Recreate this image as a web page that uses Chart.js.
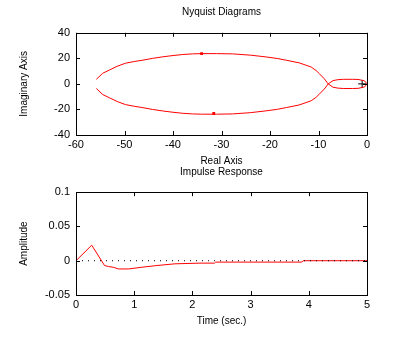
<!DOCTYPE html>
<html>
<head>
<meta charset="utf-8">
<script src="https://cdn.jsdelivr.net/npm/chart.js@4"></script>
<style>
  body { margin: 0; background: #fff; }
  #wrap { position: relative; width: 407px; height: 337px; }
  canvas { position: absolute; left: 0; top: 0; }
</style>
</head>
<body>
<div id="wrap">
  <canvas id="nyquist" width="407" height="337"></canvas>
  <canvas id="impulse" width="407" height="337"></canvas>
</div>
<script>
// Nyquist curve (positive frequencies), the other half is the mirror image
const nyqRe = [-55.8, -54.5, -53.1, -51.5, -49.8, -48.0, -46.2, -44.2, -42.1, -40.0, -38.0, -36.0, -34.1, -31.0, -27.7, -24.0, -20.8, -18.5, -16.6, -14.0, -11.5, -10.5, -9.8, -8.8, -8.0, -7.0, -6.0, -4.9, -3.0, -1.85, -0.5, 0];
const nyqIm = [3.6, 8.3, 10.9, 13.8, 16.2, 17.5, 18.6, 20.0, 21.2, 22.2, 23.0, 23.5, 23.7, 23.7, 23.5, 22.5, 21.1, 19.9, 18.5, 16.5, 13.2, 10.5, 7.9, 4.0, 0, -2.6, -3.3, -3.6, -3.6, -3.5, -2.4, 0];
const arrowRe = [-34.1, -31.6];
const arrowIm = [23.7, -23.2];
const critRe = [-1];
const critIm = [0];
const reTicks = [-60, -50, -40, -30, -20, -10, 0];
const imTicks = [-40, -20, 0, 20, 40];

// impulse response
const impT = [0, 0.27, 0.49, 0.56, 0.64, 0.73, 0.90, 1.13, 1.39, 1.70, 2.13, 2.38, 2.40, 3.88, 3.90, 5];
const impY = [0, 0.0227, -0.007, -0.0085, -0.0095, -0.012, -0.012, -0.0095, -0.007, -0.0045, -0.0035, -0.0035, -0.002, -0.002, 0, 0];
const timeTicks = [0, 1, 2, 3, 4, 5];
const ampTicks = [-0.05, 0, 0.05, 0.1];

const FONT = 'Liberation Sans, Arial, Helvetica, sans-serif';
const toPts = (xs, ys) => xs.map((x, i) => ({ x: x, y: ys[i] }));

// box round the plot area with short inward ticks on all four sides
const boxPlugin = {
    id: 'box',
    afterDraw(chart) {
        const { ctx, chartArea: a, scales } = chart;
        ctx.save();
        ctx.strokeStyle = '#000';
        ctx.lineWidth = 1;
        ctx.strokeRect(Math.round(a.left) + 0.5, Math.round(a.top) + 0.5, Math.round(a.right - a.left), Math.round(a.bottom - a.top));
        const len = 4;
        ctx.beginPath();
        scales.x.ticks.forEach(t => {
            const px = Math.round(scales.x.getPixelForValue(t.value)) + 0.5;
            ctx.moveTo(px, a.bottom); ctx.lineTo(px, a.bottom - len);
            ctx.moveTo(px, a.top); ctx.lineTo(px, a.top + len);
        });
        scales.y.ticks.forEach(t => {
            const py = Math.round(scales.y.getPixelForValue(t.value)) + 0.5;
            ctx.moveTo(a.left, py); ctx.lineTo(a.left + len, py);
            ctx.moveTo(a.right, py); ctx.lineTo(a.right - len, py);
        });
        ctx.stroke();
        ctx.restore();
    }
};

const makeScales = (xr, yr, xTicks, yTicks, xTitle, yTitle, fmtY) => ({
    x: {
        type: 'linear', min: xr[0], max: xr[1],
        afterBuildTicks: s => { s.ticks = xTicks.map(v => ({ value: v })); },
        afterFit: s => { s.height = 32; },
        grid: { display: false, drawTicks: false },
        border: { display: false },
        ticks: { color: '#000', font: { family: FONT, size: 11 }, padding: 3, maxRotation: 0 },
        title: { display: true, text: xTitle, color: '#000', font: { family: FONT, size: 10 }, padding: 0 }
    },
    y: {
        type: 'linear', min: yr[0], max: yr[1],
        afterBuildTicks: s => { s.ticks = yTicks.map(v => ({ value: v })); },
        afterFit: s => { s.width = 76; },
        grid: { display: false, drawTicks: false },
        border: { display: false },
        ticks: { color: '#000', font: { family: FONT, size: 11 }, padding: 6, callback: fmtY },
        title: { display: true, text: yTitle, color: '#000', font: { family: FONT, size: 10 }, padding: { top: 18.4, bottom: 0 } }
    }
});

new Chart(document.getElementById('nyquist'), {
    type: 'scatter',
    data: {
        datasets: [
            { data: toPts(nyqRe, nyqIm), showLine: true, borderColor: '#ff0000', borderWidth: 1, pointRadius: 0, tension: 0 },
            { data: toPts(nyqRe, nyqIm.map(v => -v)), showLine: true, borderColor: '#ff0000', borderWidth: 1, pointRadius: 0, tension: 0 },
            { data: toPts(arrowRe, arrowIm), pointStyle: 'rect', pointRadius: 2, backgroundColor: '#ff0000', borderColor: '#ff0000', borderWidth: 0 },
            { data: toPts(critRe, critIm), pointStyle: 'cross', pointRadius: 4, borderColor: '#000', borderWidth: 1 }
        ]
    },
    options: {
        responsive: false, animation: false,
        layout: { padding: { left: 0, right: 40, top: 0, bottom: 170 } },
        plugins: {
            legend: { display: false }, tooltip: { enabled: false },
            title: { display: true, fullSize: false, text: 'Nyquist Diagrams', color: '#000', font: { family: FONT, size: 10, weight: 'normal' }, padding: { top: 6.4, bottom: 14.4 } }
        },
        scales: makeScales([-60, 0], [-40, 40], reTicks, imTicks, 'Real Axis', 'Imaginary Axis', v => String(v))
    },
    plugins: [boxPlugin]
});

new Chart(document.getElementById('impulse'), {
    type: 'scatter',
    data: {
        datasets: [
            { data: toPts([0, 5], [0, 0]), showLine: true, borderColor: '#000', borderWidth: 1, borderDash: [1, 5], pointRadius: 0 },
            { data: toPts(impT, impY), showLine: true, borderColor: '#ff0000', borderWidth: 1, pointRadius: 0, tension: 0 }
        ]
    },
    options: {
        responsive: false, animation: false,
        layout: { padding: { left: 0, right: 40, top: 160, bottom: 10 } },
        plugins: {
            legend: { display: false }, tooltip: { enabled: false },
            title: { display: true, fullSize: false, text: 'Impulse Response', color: '#000', font: { family: FONT, size: 10, weight: 'normal' }, padding: { top: 6.4, bottom: 13.8 } }
        },
        scales: makeScales([0, 5], [-0.05, 0.1], timeTicks, ampTicks, 'Time (sec.)', 'Amplitude', v => v === 0 ? '0' : String(v))
    },
    plugins: [boxPlugin]
});
</script>
</body>
</html>
